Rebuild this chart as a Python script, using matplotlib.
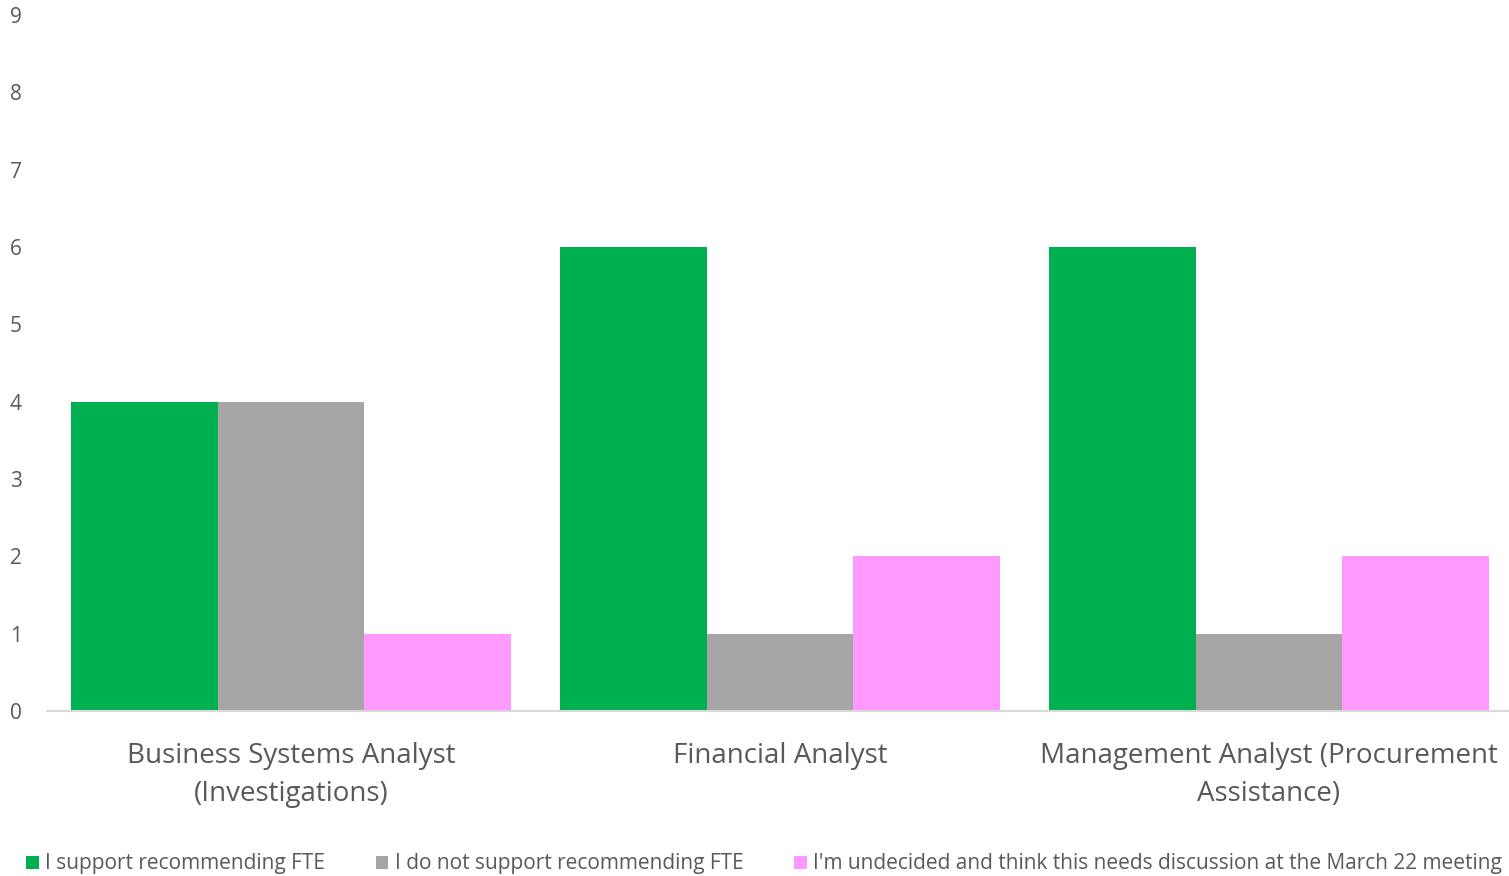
import matplotlib
matplotlib.use("Agg")
import matplotlib.pyplot as plt
from matplotlib.patches import Patch
import numpy as np

categories = ["Business Systems Analyst\n(Investigations)", "Financial Analyst",
              "Management Analyst (Procurement\nAssistance)"]
series_names = ["I support recommending FTE", "I do not support recommending FTE",
                "I'm undecided and think this needs discussion at the March 22 meeting"]
support = [4, 6, 6]
not_support = [4, 1, 1]
undecided = [1, 2, 2]
yticks = [0, 1, 2, 3, 4, 5, 6, 7, 8, 9]

colors = ["#00B050", "#A6A6A6", "#FF99FF"]
text_color = "#595959"

plt.rcParams['font.family'] = ['Open Sans', 'DejaVu Sans']

W, H = 1509, 876
fig = plt.figure(figsize=(W / 100, H / 100), dpi=100)
ax = fig.add_axes([46.5 / W, 1 - 711 / H, 1467 / W, 696 / H])

x = np.arange(len(categories))
width = 0.3
for i, (vals, c) in enumerate(zip([support, not_support, undecided], colors)):
    ax.bar(x + (i - 1) * width, vals, width, color=c, label=series_names[i], zorder=2)

ax.set_xlim(-0.5, 2.5)
ax.set_ylim(0, 9)
ax.set_yticks(yticks)
ax.set_xticks(x)
ax.set_xticklabels(categories, fontsize=20, color=text_color, linespacing=1.5)
ax.tick_params(axis='x', length=0, pad=22)
ax.tick_params(axis='y', length=0, pad=22, labelsize=15, labelcolor=text_color)
for lab in ax.get_yticklabels():
    lab.set_horizontalalignment('center')
for s in ['top', 'right', 'left']:
    ax.spines[s].set_visible(False)
ax.spines['bottom'].set_color('#D9D9D9')
ax.spines['bottom'].set_linewidth(1.5)
ax.spines['bottom'].set_zorder(3)

handles = [Patch(facecolor=c, edgecolor='none') for c in colors]
leg = fig.legend(handles, series_names, loc='center left', bbox_to_anchor=(26 / W, 1 - 864 / H),
                 ncol=3, frameon=False, fontsize=15, handlelength=0.6, handleheight=0.6,
                 handletextpad=0.3, columnspacing=2.45, borderaxespad=0, borderpad=0)
for t in leg.get_texts():
    t.set_color(text_color)

fig.savefig("out.png", dpi=100)
